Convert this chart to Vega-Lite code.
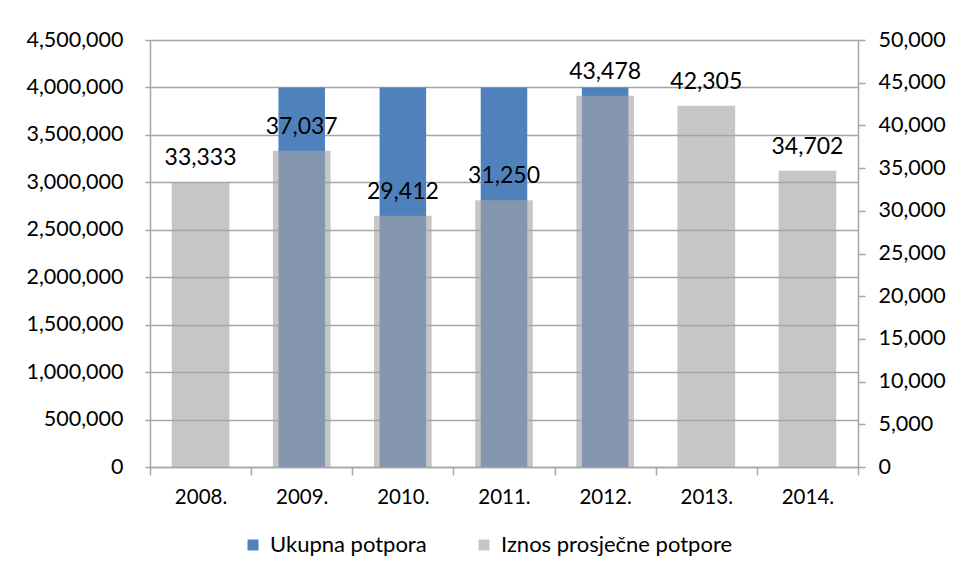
{
  "$schema": "https://vega.github.io/schema/vega-lite/v6.json",
  "autosize": "none",
  "width": 708,
  "height": 427,
  "padding": {"left": 150, "top": 40, "right": 99, "bottom": 111},
  "background": "white",
  "config": {
    "font": "Lato",
    "view": {"stroke": null},
    "axis": {"labelFont": "Lato", "labelFontSize": 21.5, "labelColor": "#000000", "domainColor": "#A6A6A6", "tickColor": "#A6A6A6", "gridColor": "#A6A6A6", "domainWidth": 1.5, "tickWidth": 1.5, "gridWidth": 1.5}
  },
  "data": {"values": [
    {"year": "2008.", "ukupna": null, "prosjek": 33333},
    {"year": "2009.", "ukupna": 4000000, "prosjek": 37037},
    {"year": "2010.", "ukupna": 4000000, "prosjek": 29412},
    {"year": "2011.", "ukupna": 4000000, "prosjek": 31250},
    {"year": "2012.", "ukupna": 4000000, "prosjek": 43478},
    {"year": "2013.", "ukupna": null, "prosjek": 42305},
    {"year": "2014.", "ukupna": null, "prosjek": 34702}
  ]},
  "encoding": {
    "x": {"field": "year", "type": "ordinal", "scale": {"paddingInner": 0, "paddingOuter": 0},
      "axis": {"title": null, "labelAngle": 0, "labelFontSize": 20.5, "tickBand": "extent", "tickSize": 8, "labelPadding": 12, "domain": true}}
  },
  "layer": [
    {
      "mark": {"type": "bar", "width": {"band": 0.46}, "color": "#4F81BD"},
      "encoding": {
        "y": {"field": "ukupna", "type": "quantitative", "scale": {"domain": [0, 4500000]},
          "axis": {"title": null, "orient": "left", "values": [0, 500000, 1000000, 1500000, 2000000, 2500000, 3000000, 3500000, 4000000, 4500000], "format": ",.0f", "grid": true, "tickSize": 5, "labelPadding": 22, "domain": true}},
        "color": {"datum": "Ukupna potpora", "type": "nominal",
          "scale": {"domain": ["Ukupna potpora", "Iznos prosječne potpore"], "range": ["#4F81BD", "#A5A5A5"]},
          "legend": {"title": null, "orient": "none", "legendX": 92, "legendY": 494, "direction": "horizontal",
            "symbolType": "square", "symbolSize": 121, "symbolStrokeWidth": 0, "labelFont": "Lato", "labelFontSize": 22, "labelColor": "#000000", "labelOffset": 6, "labelLimit": 400, "columnPadding": 46,
            "encode": {"symbols": {"update": {"opacity": {"signal": "datum.value === 'Iznos prosječne potpore' ? 0.63 : 1"}}}}}}
      }
    },
    {
      "layer": [
        {
          "mark": {"type": "bar", "width": {"band": 0.57}, "opacity": 0.63},
          "encoding": {
            "y": {"field": "prosjek", "type": "quantitative", "scale": {"domain": [0, 50000]},
              "axis": {"title": null, "orient": "right", "values": [0, 5000, 10000, 15000, 20000, 25000, 30000, 35000, 40000, 45000, 50000], "format": ",.0f", "grid": false, "tickSize": 7, "labelPadding": 13, "domain": true}},
            "color": {"datum": "Iznos prosječne potpore", "type": "nominal"}
          }
        },
        {
          "mark": {"type": "text", "font": "Lato", "fontSize": 23, "color": "#000000", "baseline": "middle", "dy": -24},
          "encoding": {
            "y": {"field": "prosjek", "type": "quantitative"},
            "text": {"field": "prosjek", "type": "quantitative", "format": ",.0f"}
          }
        }
      ]
    }
  ],
  "resolve": {"scale": {"y": "independent"}}
}
